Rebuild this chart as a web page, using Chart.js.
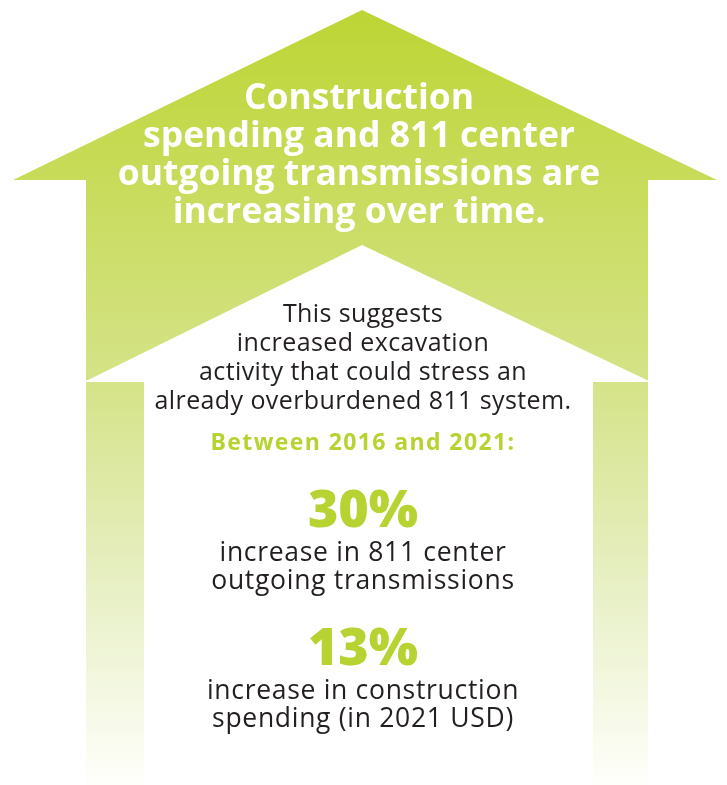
<!DOCTYPE html>
<html>
<head>
<meta charset="utf-8">
<script src="https://cdn.jsdelivr.net/npm/chart.js@4.4.0/dist/chart.umd.min.js"></script>
<style>
  html, body { margin: 0; padding: 0; background: #fff; }
  #wrap { width: 727px; height: 785px; position: relative; }
</style>
</head>
<body>
<div id="wrap"><canvas id="myChart"></canvas></div>
<script>
const headlineLines = [
  "Construction",
  "spending and 811 center",
  "outgoing transmissions are",
  "increasing over time.",
];
const noteLines = [
  "This suggests",
  "increased excavation",
  "activity that could stress an",
  "already overburdened 811 system.",
];
const periodLabel = "Between 2016 and 2021:";
const statValues = [30, 13];
const statLabels = [
  ["increase in 811 center", "outgoing transmissions"],
  ["increase in construction", "spending (in 2021 USD)"],
];

const green = "#b6d332";
const ink = "#231f20";

// the big arrow behind the text
const arrowPlugin = {
  id: "arrow",
  beforeDraw(chart) {
    const ctx = chart.ctx;
    const h = chart.height;
    ctx.save();
    const grad = ctx.createLinearGradient(0, 10, 0, h);
    grad.addColorStop(0, "#bdd534");
    grad.addColorStop(0.48, "#d5e388");
    grad.addColorStop(0.75, "#e8f0c6");
    grad.addColorStop(1, "#fefffb");
    ctx.fillStyle = grad;
    ctx.beginPath();
    ctx.moveTo(362, 10);
    ctx.lineTo(717, 180);
    ctx.lineTo(648, 180);
    ctx.lineTo(648, h);
    ctx.lineTo(86, h);
    ctx.lineTo(86, 180);
    ctx.lineTo(13, 180);
    ctx.closePath();
    ctx.fill();

    // hollow inside
    ctx.fillStyle = "#ffffff";
    ctx.beginPath();
    ctx.moveTo(86, 381);
    ctx.lineTo(362, 245);
    ctx.lineTo(649, 381);
    ctx.lineTo(593, 381);
    ctx.lineTo(593, h);
    ctx.lineTo(144, h);
    ctx.lineTo(144, 381);
    ctx.closePath();
    ctx.fill();
    ctx.fillRect(86, 380, 563, 2);
    ctx.restore();
  },
};

const textPlugin = {
  id: "texts",
  afterDraw(chart) {
    const ctx = chart.ctx;
    const cx = 363;
    ctx.save();
    ctx.textAlign = "center";
    ctx.textBaseline = "alphabetic";

    ctx.fillStyle = ink;
    ctx.font = "400 25px 'Open Sans'";
    ctx.letterSpacing = "0.4px";
    noteLines.forEach((line, i) => {
      ctx.fillText(line, cx, 322 + i * 29);
    });

    ctx.fillStyle = green;
    ctx.font = "bold 23px 'Open Sans'";
    ctx.letterSpacing = "1.4px";
    ctx.fillText(periodLabel, cx, 450);

    const statBase = [527, 665];
    statValues.forEach((v, i) => {
      const y = statBase[i];
      ctx.fillStyle = green;
      ctx.font = "800 52px 'Open Sans'";
      ctx.letterSpacing = "0px";
      ctx.fillText(v + "%", cx, y);
      ctx.fillStyle = ink;
      ctx.font = "400 26.5px 'Open Sans'";
      ctx.letterSpacing = "0.7px";
      statLabels[i].forEach((line, j) => {
        ctx.fillText(line, cx, y + 34 + j * 28);
      });
    });
    ctx.restore();
  },
};

const ctx = document.getElementById("myChart");

new Chart(ctx, {
  type: "bar",
  data: {
    labels: [],
    datasets: [],
  },
  plugins: [arrowPlugin, textPlugin],
  options: {
    responsive: true,
    maintainAspectRatio: false,
    animation: false,
    layout: { padding: { left: 0, right: 9, top: 0, bottom: 0 } },
    scales: {
      x: { display: false },
      y: { display: false },
    },
    plugins: {
      legend: { display: false },
      tooltip: { enabled: false },
      title: {
        display: true,
        text: headlineLines,
        color: "#ffffff",
        font: { family: "'Open Sans'", weight: "bold", size: 35.5, lineHeight: 1.07 },
        padding: { top: 80, bottom: 0 },
      },
    },
  },
});
</script>
</body>
</html>
